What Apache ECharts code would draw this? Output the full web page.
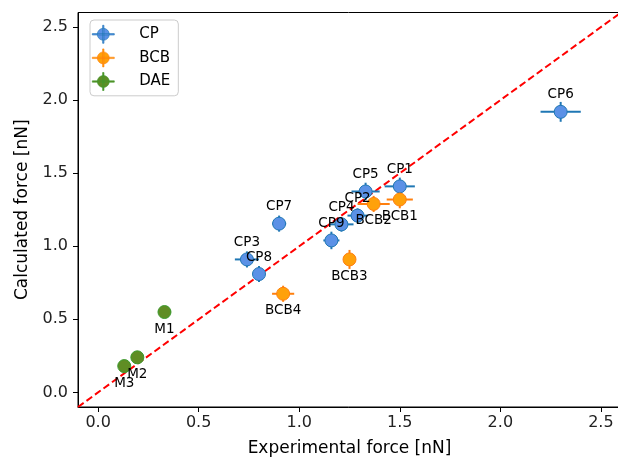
<!DOCTYPE html>
<html>
<head>
<meta charset="utf-8">
<script src="https://cdn.jsdelivr.net/npm/echarts@6/dist/echarts.min.js"></script>
<style>
  html, body { margin: 0; padding: 0; background: #fff; }
  #main { width: 618px; height: 459px; }
</style>
</head>
<body>
<div id="main"></div>
<script>
// 数据
var cpNames = ['CP1', 'CP2', 'CP3', 'CP4', 'CP5', 'CP6', 'CP7', 'CP8', 'CP9'];
var cpX = [1.50, 1.29, 0.74, 1.21, 1.33, 2.30, 0.90, 0.80, 1.16];
var cpY = [1.41, 1.21, 0.91, 1.15, 1.375, 1.92, 1.155, 0.81, 1.04];
var cpXErr = [0.075, 0.05, 0.06, 0.06, 0.07, 0.10, 0.035, 0.03, 0.04];
var cpYErr = [0.06, 0.05, 0.055, 0.05, 0.06, 0.068, 0.055, 0.055, 0.06];

var bcbNames = ['BCB1', 'BCB2', 'BCB3', 'BCB4'];
var bcbX = [1.50, 1.37, 1.25, 0.92];
var bcbY = [1.32, 1.29, 0.91, 0.675];
var bcbXErr = [0.065, 0.08, 0.015, 0.055];
var bcbYErr = [0.06, 0.055, 0.065, 0.055];

var daeNames = ['M1', 'M2', 'M3'];
var daeX = [0.33, 0.195, 0.13];
var daeY = [0.55, 0.24, 0.18];
var daeXErr = [0.01, 0.01, 0.01];
var daeYErr = [0.01, 0.01, 0.01];

var diagX = [-0.1, 2.6];
var tickValues = [0, 0.5, 1.0, 1.5, 2.0, 2.5];

var font = 'DejaVu Sans';

function rows(names, xs, ys, xe, ye) {
    var out = [];
    for (var i = 0; i < names.length; i++) {
        out.push({ name: names[i], value: [xs[i], ys[i], xe[i], ye[i]] });
    }
    return out;
}

// 误差棒
function errRender(params, api) {
    var x = api.value(0), y = api.value(1), xe = api.value(2), ye = api.value(3);
    var a = api.coord([x - xe, y]), b = api.coord([x + xe, y]);
    var c = api.coord([x, y - ye]), d = api.coord([x, y + ye]);
    var st = { stroke: api.visual('color'), lineWidth: 2 };
    return {
        type: 'group',
        children: [
            { type: 'line', shape: { x1: a[0], y1: a[1], x2: b[0], y2: b[1] }, style: st },
            { type: 'line', shape: { x1: c[0], y1: c[1], x2: d[0], y2: d[1] }, style: st }
        ]
    };
}

function errSeries(data, color) {
    return {
        type: 'custom',
        renderItem: errRender,
        data: data,
        itemStyle: { color: color },
        z: 3,
        silent: true,
        encode: { x: 0, y: 1 }
    };
}

function pointSeries(name, data, fill, edge, pos) {
    return {
        name: name,
        type: 'scatter',
        data: data,
        symbol: 'circle',
        symbolSize: 13,
        itemStyle: { color: fill, borderColor: edge, borderWidth: 1, opacity: 1 },
        label: {
            show: true,
            position: pos,
            distance: 3,
            formatter: '{b}',
            color: '#000',
            fontSize: 13.5,
            fontFamily: font
        },
        z: 4
    };
}

var legendIcon = 'path://M1,11.3h22v1.4h-22z M11.3,3h1.4v18h-1.4z M18,12a6,6 0 1,1 -12,0a6,6 0 1,1 12,0z';

var myChart = echarts.init(document.getElementById('main'), null, { renderer: 'canvas' });

var cpData = rows(cpNames, cpX, cpY, cpXErr, cpYErr);
var bcbData = rows(bcbNames, bcbX, bcbY, bcbXErr, bcbYErr);
var daeData = rows(daeNames, daeX, daeY, daeXErr, daeYErr);

var option = {
    backgroundColor: '#fff',
    animation: false,
    grid: {
        left: 78, right: -3, top: 12.5, bottom: 52,
        show: true, borderColor: '#000', borderWidth: 1,
        outerBoundsMode: 'none'
    },
    legend: {
        orient: 'vertical',
        left: 90, top: 20,
        padding: [5, 8, 5, 2],
        itemWidth: 36, itemHeight: 18, itemGap: 5,
        icon: legendIcon,
        itemStyle: { borderWidth: 0.6 },
        borderColor: '#cccccc', borderWidth: 1, borderRadius: 4,
        backgroundColor: 'rgba(255,255,255,0.8)',
        textStyle: { fontSize: 15, fontFamily: font, color: '#000', padding: [0, 0, 0, 13] },
        data: ['CP', 'BCB', 'DAE']
    },
    xAxis: {
        type: 'value',
        min: -0.1, max: 2.6,
        name: 'Experimental force [nN]',
        nameLocation: 'middle', nameGap: 33,
        nameTextStyle: { fontSize: 17, fontFamily: font, color: '#000' },
        splitLine: { show: false },
        axisLine: { show: true, onZero: false, lineStyle: { color: '#000', width: 1 } },
        axisTick: { show: true, length: 5, lineStyle: { color: '#000' }, customValues: tickValues },
        axisLabel: {
            fontSize: 16, fontFamily: font, color: '#222', margin: 8,
            customValues: tickValues,
            formatter: function (v) { return v.toFixed(1); }
        }
    },
    yAxis: {
        type: 'value',
        min: -0.1, max: 2.6,
        name: 'Calculated force [nN]',
        nameLocation: 'middle', nameGap: 47,
        nameTextStyle: { fontSize: 17, fontFamily: font, color: '#000' },
        splitLine: { show: false },
        axisLine: { show: true, onZero: false, lineStyle: { color: '#000', width: 1 } },
        axisTick: { show: true, length: 5, lineStyle: { color: '#000' }, customValues: tickValues },
        axisLabel: {
            fontSize: 16, fontFamily: font, color: '#222', margin: 10,
            customValues: tickValues,
            formatter: function (v) { return v.toFixed(1); }
        }
    },
    series: [
        {
            type: 'line',
            data: [[diagX[0], diagX[0]], [diagX[1], diagX[1]]],
            symbol: 'none',
            silent: true,
            clip: true,
            lineStyle: { color: '#ff0000', width: 2, type: [7, 3.5] },
            z: 2
        },
        errSeries(cpData, '#1f77b4'),
        errSeries(bcbData, '#ff7f0e'),
        errSeries(daeData, '#2ca02c'),
        pointSeries('CP', cpData, '#5b91e6', '#1f77b4', 'top'),
        pointSeries('BCB', bcbData, '#ffa10a', '#ff7f0e', 'bottom'),
        pointSeries('DAE', daeData, '#5f8d24', '#3a9a2c', 'bottom')
    ]
};

myChart.setOption(option);
</script>
</body>
</html>
